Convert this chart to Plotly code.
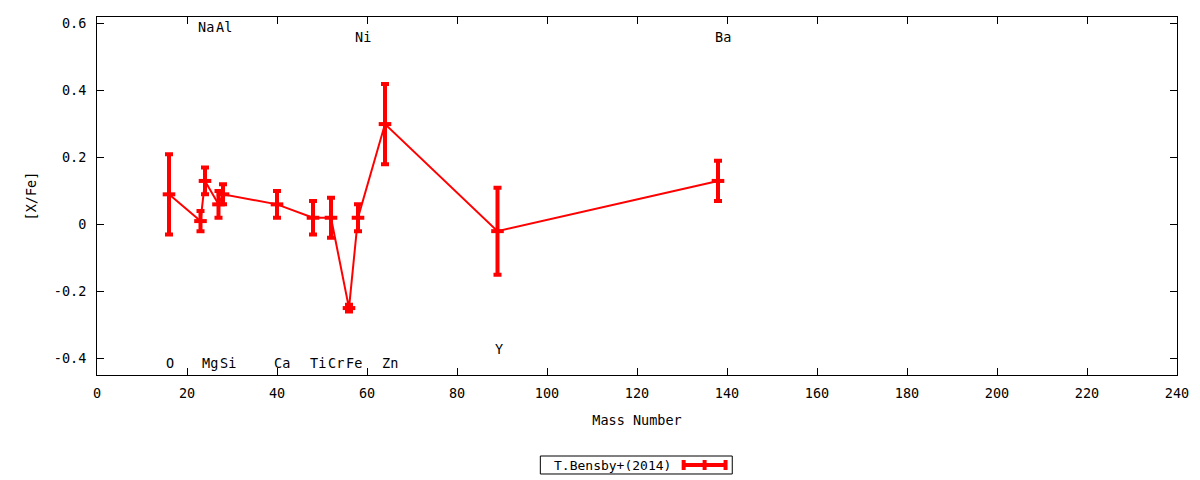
import plotly.graph_objects as go

# abundance ratios vs. mass number
elements = ["O", "Na", "Mg", "Al", "Si", "Ca", "Ti", "Cr", "Fe", "Ni", "Zn", "Y", "Ba"]
mass_numbers = [16, 23, 24, 27, 28, 40, 48, 52, 56, 58, 64, 89, 138]
x_fe = [0.09, 0.01, 0.13, 0.06, 0.09, 0.06, 0.02, 0.02, -0.25, 0.02, 0.30, -0.02, 0.13]
x_fe_err = [0.12, 0.03, 0.04, 0.04, 0.03, 0.04, 0.05, 0.06, 0.01, 0.04, 0.12, 0.13, 0.06]
label_y = [-0.414, 0.589, -0.414, 0.589, -0.414, -0.414, -0.414, -0.414, -0.414,
           0.559, -0.414, -0.372, 0.559]

x_ticks = list(range(0, 241, 20))
y_ticks = [-0.4, -0.2, 0, 0.2, 0.4, 0.6]
y_tick_text = ["-0.4", "-0.2", "0", "0.2", "0.4", "0.6"]

FONT = "DejaVu Sans Mono"
FSIZE = 13.5
RED = "#ff0000"

fig = go.Figure()
fig.add_trace(go.Scatter(
    x=mass_numbers,
    y=x_fe,
    mode="lines+markers",
    name="T.Bensby+(2014)",
    line=dict(color=RED, width=2),
    marker=dict(symbol="line-ew", size=9, line=dict(color=RED, width=4)),
    error_y=dict(type="data", array=x_fe_err, color=RED, thickness=4, width=4),
    showlegend=False,
))

# element labels (single letters sit a bit closer to their point)
for el, m, ly in zip(elements, mass_numbers, label_y):
    shift = 1 if len(el) == 1 else 5
    fig.add_annotation(x=m, y=ly, text=el, showarrow=False, xshift=shift,
                       font=dict(family=FONT, size=FSIZE, color="black"))

# gnuplot-like key: text on the left, sample on the right
fig.add_shape(type="rect", xref="paper", yref="paper",
              x0=0.4105, x1=0.5882, y0=-0.2263, y1=-0.2765,
              line=dict(color="black", width=1))
fig.add_annotation(xref="paper", yref="paper", x=0.4210, y=-0.2514,
                   text="T.Bensby+(2014)", showarrow=False,
                   xanchor="left", yanchor="middle",
                   font=dict(family=FONT, size=13, color="black"))
fig.add_shape(type="line", xref="paper", yref="paper",
              x0=0.5427, x1=0.5825, y0=-0.2514, y1=-0.2514,
              line=dict(color=RED, width=4))
for cx in [0.5432, 0.5626, 0.5820]:
    fig.add_shape(type="line", xref="paper", yref="paper",
                  x0=cx, x1=cx, y0=-0.2374, y1=-0.2654,
                  line=dict(color=RED, width=4))

axis_common = dict(
    showline=True, linecolor="black", linewidth=1, mirror="ticks",
    ticks="inside", ticklen=7, tickcolor="black", tickwidth=1,
    showgrid=False, zeroline=False,
    tickfont=dict(family=FONT, size=FSIZE, color="black"),
)

fig.update_xaxes(range=[0, 240], tickvals=x_ticks, ticklabelstandoff=6,
                 title=dict(text="Mass Number", standoff=15,
                            font=dict(family=FONT, size=FSIZE, color="black")),
                 **axis_common)
fig.update_yaxes(range=[-0.45, 0.62], tickvals=y_ticks, ticktext=y_tick_text,
                 ticklabelstandoff=7,
                 title=dict(text="[X/Fe]", standoff=14,
                            font=dict(family=FONT, size=FSIZE, color="black")),
                 **axis_common)

fig.update_layout(
    width=1200, height=480,
    margin=dict(l=97, r=23, t=17, b=105, autoexpand=False),
    plot_bgcolor="white", paper_bgcolor="white",
    font=dict(family=FONT, size=FSIZE, color="black"),
)

fig.write_html("out.html", config={"displayModeBar": False},
               post_script="document.body.style.margin='0';")
